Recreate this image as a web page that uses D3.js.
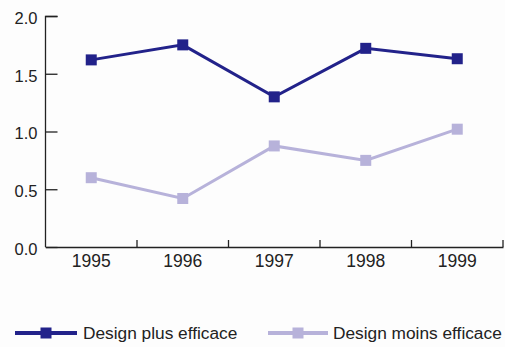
<!DOCTYPE html>
<html><head><meta charset="utf-8">
<script src="https://cdn.jsdelivr.net/npm/d3@7"></script>
<style>body{margin:0;background:#fff}svg{display:block}</style>
</head><body>
<script>
const years = ["1995","1996","1997","1998","1999"];
const seriesNames = ["Design plus efficace","Design moins efficace"];
const plusValues = [1.62, 1.75, 1.30, 1.72, 1.63];
const moinsValues = [0.60, 0.42, 0.875, 0.75, 1.02];
const yTicks = [0.0, 0.5, 1.0, 1.5, 2.0];
const colors = ["#22228a", "#b7b2da"];

const W = 505, H = 347;
const svg = d3.select("body").append("svg").attr("width", W).attr("height", H);
svg.append("rect").attr("width", W).attr("height", H).attr("fill", "#fdfdfd");

const x = d3.scaleBand().domain(years).range([45.5, 503]);
const y = d3.scaleLinear().domain([0, 2]).range([247, 16]);
const font = "'Liberation Sans', Arial, sans-serif";

// y axis
const ya = svg.append("g").attr("transform", "translate(45.5,0)")
  .call(d3.axisRight(y).tickValues(yTicks).tickSize(12).tickFormat(d3.format(".1f")));
ya.select(".domain").attr("d", "M12,16.5H0V247").attr("stroke", "#222").attr("stroke-width", 1.3);
ya.selectAll(".tick line").attr("stroke", "#222").attr("stroke-width", 1.3);
ya.selectAll(".tick text").attr("x", -8).attr("text-anchor", "end")
  .attr("font-family", font).attr("font-size", 16.5).attr("fill", "#222").attr("dy", "0.45em");

// x axis
const xa = svg.append("g").attr("transform", "translate(0,247)")
  .call(d3.axisBottom(x).tickSize(0).tickPadding(7));
xa.select(".domain").attr("stroke", "#222").attr("stroke-width", 1.3);
xa.selectAll(".tick text").attr("font-family", font).attr("font-size", 17.5).attr("fill", "#222").attr("dy", "0.72em");
// boundary ticks
const bounds = years.slice(1).map(d => x(d)).concat([x.range()[1]]);
xa.selectAll("line.bt").data(bounds).enter().append("line").attr("class","bt")
  .attr("x1", d => d).attr("x2", d => d).attr("y1", 0).attr("y2", -7)
  .attr("stroke", "#222").attr("stroke-width", 1.3);

const cx = d => x(d) + x.bandwidth() / 2;
const line = d3.line().x((d, i) => cx(years[i])).y(d => y(d));
[moinsValues, plusValues].forEach((vals, k) => {
  const c = k === 0 ? colors[1] : colors[0];
  svg.append("path").datum(vals).attr("d", line).attr("fill", "none")
    .attr("stroke", c).attr("stroke-width", 3);
  svg.selectAll(null).data(vals).enter().append("rect")
    .attr("x", (d, i) => cx(years[i]) - 5.5).attr("y", d => y(d) - 5.5)
    .attr("width", 11).attr("height", 11).attr("fill", c);
});

// legend
const legend = [
  {name: seriesNames[0], color: colors[0], x0: 15, x1: 77, tx: 83},
  {name: seriesNames[1], color: colors[1], x0: 268, x1: 328, tx: 333}
];
const ly = 333;
legend.forEach(l => {
  svg.append("line").attr("x1", l.x0).attr("x2", l.x1).attr("y1", ly).attr("y2", ly)
    .attr("stroke", l.color).attr("stroke-width", 4);
  svg.append("rect").attr("x", (l.x0 + l.x1) / 2 - 5.5).attr("y", ly - 5.5)
    .attr("width", 11).attr("height", 11).attr("fill", l.color);
  svg.append("text").attr("x", l.tx).attr("y", ly).attr("dy", "0.36em")
    .attr("font-family", font).attr("font-size", 17.3).attr("fill", "#222").text(l.name);
});
</script>
</body></html>
